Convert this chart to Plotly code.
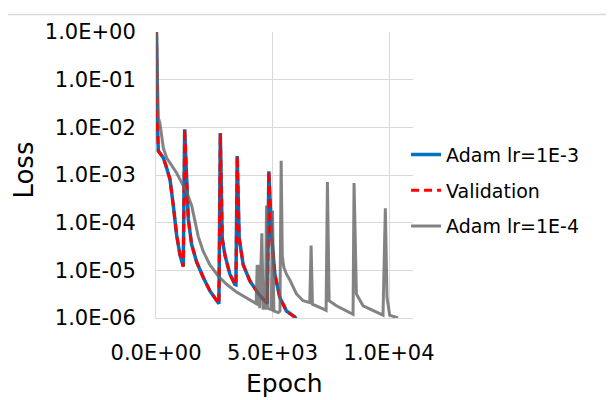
import plotly.graph_objects as go

# ---- data ----
epoch_a = [20, 35, 60, 100, 170, 314, 457, 600, 743, 886, 1029, 1171, 1230, 1290, 1330, 1386,
           1529, 1743, 2029, 2314, 2671, 2700, 2760, 2800, 2843, 2957, 3171, 3386, 3430, 3486,
           3530, 3571, 3743, 4029, 4400, 4780, 4843, 4900, 4957, 5100, 5314, 5600, 5957, 6050]
loss_a = [1.0, 1.0e-1, 1.3e-2, 3.2e-3, 2.9e-3, 2.3e-3, 1.4e-3, 8.1e-4, 2.3e-4, 5.5e-5, 2.1e-5, 1.2e-5,
          9.1e-3, 1.3e-3, 4.0e-4, 1.2e-4,
          3.5e-5, 1.5e-5, 7.1e-6, 3.7e-6, 2.1e-6, 2.0e-6, 7.6e-3, 5.0e-4, 4.7e-5, 2.1e-5, 8.3e-6, 5.1e-6, 5.0e-6, 2.5e-3,
          2.5e-4, 4.7e-5, 1.3e-5, 6.0e-6, 3.2e-6, 2.0e-6, 1.2e-3, 2.5e-4, 5.5e-5, 8.3e-6, 2.7e-6, 1.4e-6, 1.05e-6, 8.9e-7]

epoch_val = [20, 35, 60, 100, 170, 314, 457, 600, 743, 886, 1029, 1171, 1230, 1290, 1330, 1386,
             1529, 1743, 2029, 2314, 2671, 2700, 2760, 2800, 2843, 2957, 3171, 3386, 3430, 3486,
             3530, 3571, 3743, 4029, 4400, 4780, 4843, 4900, 4957, 5100, 5314, 5600, 5957, 6050]
loss_val = [1.0, 1.0e-1, 1.3e-2, 3.2e-3, 2.9e-3, 2.3e-3, 1.4e-3, 8.1e-4, 2.3e-4, 5.5e-5, 2.1e-5, 1.2e-5,
            9.1e-3, 1.3e-3, 4.0e-4, 1.2e-4,
            3.5e-5, 1.5e-5, 7.1e-6, 3.7e-6, 2.1e-6, 2.0e-6, 7.6e-3, 5.0e-4, 4.7e-5, 2.1e-5, 8.3e-6, 5.1e-6, 5.0e-6, 2.5e-3,
            2.5e-4, 4.7e-5, 1.3e-5, 6.0e-6, 3.2e-6, 2.0e-6, 1.2e-3, 2.5e-4, 5.5e-5, 8.3e-6, 2.7e-6, 1.4e-6, 1.05e-6, 8.9e-7]

epoch_b = [20, 50, 100, 171, 314, 457, 600, 743, 886, 1029, 1314, 1529, 1671, 1814, 2029, 2314, 2671,
           3029, 3457, 4029, 4243, 4300, 4343, 4370, 4420, 4450, 4543, 4600, 4700, 4743, 4800, 4950,
           5000, 5060, 5250, 5320, 5372, 5420, 5486, 5600, 5743, 6029, 6314, 6600, 6657, 6714, 7171,
           7300, 7357, 7429, 7743, 8314, 8457, 8500, 8600, 8886, 9457, 9743, 9843, 9914, 10029, 10386]
loss_b = [1.0, 1.0e-1, 1.6e-2, 1.2e-2, 3.7e-3, 2.3e-3, 1.8e-3, 1.45e-3, 1.1e-3, 8.1e-4, 4.4e-4, 2.3e-4,
          1.05e-4, 5.1e-5, 2.5e-5, 1.3e-5, 7.6e-6, 5.1e-6, 3.5e-6, 2.4e-6, 2.1e-6, 2.0e-6, 1.3e-5, 1.8e-6,
          1.3e-5, 1.6e-6, 6.0e-5, 1.6e-6, 1.6e-6, 2.3e-4, 1.6e-6, 1.5e-6, 1.8e-4, 1.4e-6, 1.3e-6, 1.4e-6,
          2.0e-3, 2.0e-5, 1.15e-5, 8.3e-6, 6.3e-6, 3.2e-6, 2.3e-6, 2.1e-6, 3.3e-5, 1.95e-6, 1.55e-6,
          1.45e-6, 7.1e-4, 2.3e-6, 1.8e-6, 1.3e-6, 1.2e-6, 6.8e-4, 3.2e-6, 1.8e-6, 1.3e-6, 1.15e-6,
          2.0e-4, 2.7e-6, 1.15e-6, 1.0e-6]

y_tickvals = [1e-6, 1e-5, 1e-4, 1e-3, 1e-2, 1e-1, 1e0]
y_ticktext = ["1.0E-06", "1.0E-05", "1.0E-04", "1.0E-03", "1.0E-02", "1.0E-01", "1.0E+00"]
x_tickvals = [0, 5000, 10000]
x_ticktext = ["0.0E+00", "5.0E+03", "1.0E+04"]

FONT = "DejaVu Sans"

fig = go.Figure()
fig.add_trace(go.Scatter(x=epoch_a, y=loss_a, mode="lines", name="Adam lr=1E-3",
                         line=dict(color="#0070C0", width=3.5), legendgroup="a"))
fig.add_trace(go.Scatter(x=epoch_val, y=loss_val, mode="lines", name="Validation",
                         line=dict(color="#FF0000", width=3, dash="8px,5px"), legendgroup="v"))
fig.add_trace(go.Scatter(x=epoch_b, y=loss_b, mode="lines", name="Adam lr=1E-4",
                         line=dict(color="rgba(100,100,100,0.8)", width=3), legendgroup="b"))

# page has an 8px body margin: figure is offset by 8px, so shrink it and its left/top margins
fig.update_layout(
    width=606, height=392,
    margin=dict(l=148, r=201, t=19, b=82),
    paper_bgcolor="white", plot_bgcolor="white",
    font=dict(family=FONT, size=21, color="black"),
    showlegend=True,
    legend=dict(x=0.973, y=0.445, xanchor="left", yanchor="middle",
                font=dict(family=FONT, size=19, color="black"),
                traceorder="grouped", tracegroupgap=8, bgcolor="rgba(0,0,0,0)"),
    xaxis=dict(range=[0, 11030], tickvals=x_tickvals, ticktext=x_ticktext,
               showgrid=True, gridcolor="#D9D9D9", gridwidth=1,
               showline=True, linecolor="#D9D9D9", linewidth=1,
               zeroline=False, ticks="", ticklabelstandoff=16,
               tickfont=dict(family=FONT, size=21)),
    yaxis=dict(type="log", range=[-6, 0], tickvals=y_tickvals, ticktext=y_ticktext,
               showgrid=True, gridcolor="#D9D9D9", gridwidth=1,
               showline=True, linecolor="#D9D9D9", linewidth=1,
               zeroline=False, ticks="", ticklabelstandoff=15,
               tickfont=dict(family=FONT, size=21)),
    annotations=[
        dict(text="Loss", xref="paper", yref="paper", x=(24 - 156) / 257, y=(318 - 168) / 291,
             xanchor="center", yanchor="middle", textangle=-90, showarrow=False,
             font=dict(family=FONT, size=26, color="black")),
        dict(text="Epoch", xref="paper", yref="paper", x=(284.5 - 156) / 257, y=(318 - 385) / 291,
             xanchor="center", yanchor="middle", showarrow=False,
             font=dict(family=FONT, size=25, color="black")),
    ],
    shapes=[dict(type="line", xref="paper", yref="paper", x0=-156 / 257, x1=(614 - 156) / 257,
                 y0=(318 - 9.3) / 291, y1=(318 - 9.3) / 291,
                 line=dict(color="#D9D9D9", width=1.5))],
)

fig.write_html("out.html")
